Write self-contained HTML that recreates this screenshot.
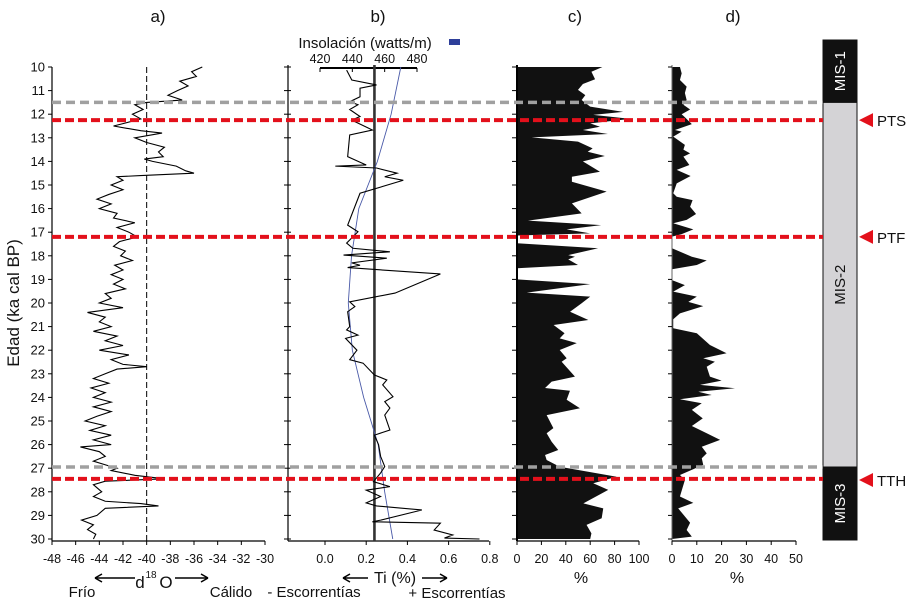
<!DOCTYPE html>
<html><head><meta charset="utf-8"><style>
html,body{margin:0;padding:0;background:#fff;}
svg{display:block;font-family:"Liberation Sans",sans-serif;}
</style></head><body>
<svg id="chart" width="915" height="602" viewBox="0 0 915 602" xmlns="http://www.w3.org/2000/svg">
<g id="content"></g>
</svg>
<script>
// ---- data ----
const yTicks=[10,11,12,13,14,15,16,17,18,19,20,21,22,23,24,25,26,27,28,29,30];
const d18oTicks=[-48,-46,-44,-42,-40,-38,-36,-34,-32,-30];
const tiTicks=[0.0,0.2,0.4,0.6,0.8];
const insolTicks=[420,440,460,480];
const pctTicksC=[0,20,40,60,80,100];
const pctTicksD=[0,10,20,30,40,50];
const d18oAge=[10.0,10.2,10.4,10.6,10.8,11.0,11.2,11.4,11.5,11.6,11.8,12.0,12.2,12.4,12.5,12.7,12.8,13.0,13.2,13.4,13.6,13.8,13.9,14.0,14.2,14.4,14.5,14.6,14.65,14.8,15.0,15.2,15.4,15.6,15.8,16.0,16.2,16.4,16.6,16.8,17.0,17.2,17.4,17.6,17.8,18.0,18.2,18.4,18.6,18.8,19.0,19.2,19.4,19.6,19.8,20.0,20.2,20.4,20.6,20.8,21.0,21.2,21.4,21.6,21.8,22.0,22.2,22.4,22.6,22.7,22.8,23.0,23.2,23.4,23.6,23.8,24.0,24.2,24.4,24.6,24.8,25.0,25.2,25.4,25.6,25.8,26.0,26.1,26.3,26.5,26.7,26.9,27.0,27.1,27.3,27.45,27.55,27.7,28.0,28.2,28.4,28.5,28.6,28.7,29.0,29.2,29.4,29.6,29.8,30.0];
const d18oVal=[-35.3,-36.2,-35.8,-37.2,-36.5,-37.4,-38.2,-37.0,-40.0,-41.0,-40.3,-41.2,-40.5,-42.0,-42.8,-40.5,-38.7,-41.0,-40.0,-38.5,-39.0,-38.6,-40.2,-39.5,-37.5,-36.7,-36.0,-40.5,-42.5,-42.0,-43.0,-42.0,-43.2,-44.2,-43.0,-44.0,-42.5,-42.8,-41.0,-42.5,-41.5,-40.8,-42.3,-42.8,-41.8,-42.2,-41.2,-42.7,-42.0,-43.0,-42.0,-42.8,-41.8,-43.5,-43.0,-44.0,-42.0,-45.0,-43.5,-44.0,-43.0,-44.5,-42.5,-43.5,-42.0,-44.0,-41.5,-43.0,-42.0,-40.0,-42.5,-43.5,-44.5,-43.2,-44.7,-43.5,-44.5,-43.0,-44.5,-43.0,-44.2,-45.2,-43.5,-44.8,-43.0,-44.5,-43.0,-45.6,-44.0,-43.5,-44.5,-43.2,-42.5,-43.0,-41.0,-38.5,-43.5,-44.5,-43.8,-44.5,-43.5,-40.5,-39.0,-43.5,-44.2,-45.5,-44.5,-45.0,-44.3,-44.5];
const tiAge=[10.13,10.55,10.76,10.9,11.26,11.47,11.6,11.8,12.1,12.25,12.67,12.88,13.8,14.15,14.2,14.28,14.5,14.65,14.8,15.35,16.7,16.98,17.46,17.68,17.83,17.97,18.1,18.3,18.4,18.5,18.77,19.58,19.95,20.15,20.37,21.0,21.14,21.36,21.5,22.0,22.4,22.55,23.05,23.26,23.47,23.97,24.18,24.45,24.75,25.38,25.6,26.0,26.5,26.93,27.2,27.57,27.78,27.93,28.2,28.47,28.6,28.77,29.2,29.27,29.33,29.62,29.83,29.96,30.0];
const tiVal=[0.105,0.13,0.25,0.17,0.17,0.12,0.16,0.12,0.17,0.13,0.23,0.12,0.11,0.20,0.05,0.25,0.35,0.29,0.38,0.17,0.11,0.16,0.105,0.135,0.315,0.09,0.30,0.13,0.17,0.11,0.56,0.34,0.12,0.145,0.11,0.12,0.105,0.16,0.10,0.155,0.12,0.185,0.24,0.30,0.28,0.33,0.29,0.315,0.29,0.315,0.24,0.26,0.27,0.29,0.27,0.235,0.315,0.20,0.27,0.20,0.25,0.47,0.27,0.23,0.56,0.53,0.62,0.58,0.75];
const tiMean=[0.24];
const insolAge=[10,12,14,16,18,20,22,24,26,28,30];
const insolVal=[470,464,455.5,444,439.5,437.5,440,447,456,460,465];
const cAge=[10.0,10.2,10.52,10.72,10.97,11.19,11.4,11.68,11.9,12.03,12.2,12.39,12.53,12.67,12.84,12.98,13.16,13.45,13.59,13.77,14.0,14.44,14.65,14.86,15.28,15.78,16.2,16.51,16.7,16.88,17.05,17.14,17.47,17.68,17.97,18.04,18.15,18.39,18.53,19.0,19.2,19.56,19.73,20.01,20.37,20.72,20.93,21.28,21.5,21.7,21.99,22.34,22.49,23.12,23.33,23.6,23.72,24.1,24.46,24.75,25.3,25.52,25.88,26.23,26.44,26.65,26.94,27.36,27.64,27.92,28.49,28.7,29.12,29.4,29.76,30.0];
const cVal=[70,61,64,54,50,56,53,60,87,62.5,93,60,68,54,74.5,12,50,62,58,72,54,68,45,45,73.5,45,53,9,69,40.7,60,0,0,66.5,42,47.5,42,50,0,0,60,8,60,53,43.5,58.5,30,39,35,49,35,40.7,36.6,47.5,28.4,23,43.4,40.7,51.6,24.3,29.8,24.3,28.4,33.8,23,24.3,35,81.7,62.5,74.8,54.4,70.7,69.4,57,61,60];
const dAge=[10.0,10.27,10.55,10.83,11.1,11.4,11.6,11.8,12.0,12.13,12.42,12.67,12.74,12.95,13.3,13.5,13.66,13.8,14.15,14.36,14.62,14.93,15.35,15.5,15.64,15.92,16.23,16.48,16.62,16.88,17.08,17.19,17.68,18.04,18.2,18.39,18.57,19.03,19.24,19.52,19.73,19.95,20.13,20.44,20.69,21.07,21.28,21.78,22.13,22.34,22.49,22.7,23.12,23.29,23.47,23.61,23.76,23.9,24.08,24.25,24.53,24.89,25.21,25.52,25.8,26.09,26.37,26.58,26.86,27.29,27.5,28.2,28.47,28.7,29.31,29.62,29.9,30.0];
const dVal=[3.2,3.9,3.2,5.9,5.2,5.9,4.6,7.3,3.9,5.2,8,1.2,3.9,0.5,5.2,4.6,7.3,4.6,7,1.9,7.5,1.9,0.5,1.9,8.3,7.3,9.7,5.9,0.5,8.6,3.9,0,0,8,14,10,0,0,5.2,0.5,10,6.6,12.6,3.2,0.5,0.5,10,15.3,22,12.6,17.3,14,15.3,20,11.3,25.4,10.6,16,3.2,12,8,12.4,8,14,19.4,12,14,12,12.6,3.2,5.2,3.2,8.6,2.5,7.3,5.9,8,0];
const misNames=["MIS-1","MIS-2","MIS-3"];
const misStart=[8.8,11.5,26.95];
const misEnd=[11.5,26.95,30.05];
const eventNames=["PTS","PTF","TTH"];
const eventAge=[12.25,17.2,27.5];
const redLineAge=[12.25,17.2,27.45];
const grayLineAge=[11.5,26.95];

// ---- scales ----
const Y=a=>67+(a-10)*23.6;
const XA=v=>52+(v+48)*(213/18);
const XT=v=>325+v*206;
const XI=v=>320+(v-420)*(97/60);
const XC=v=>517+v*1.22;
const XD=v=>672+v*2.48;
const NS="http://www.w3.org/2000/svg";
const root=document.getElementById('content');
function mk(tag,attrs,parent){const e=document.createElementNS(NS,tag);for(const k in attrs)e.setAttribute(k,attrs[k]);(parent||root).appendChild(e);return e;}
function txt(s,x,y,size,anchor,parent){const t=mk('text',{x:x,y:y,'font-size':size,'text-anchor':anchor||'middle',fill:'#111'},parent);t.textContent=s;return t;}

// titles
[["a)",158],["b)",378],["c)",575],["d)",733]].forEach(p=>{const t=txt(p[0],p[1],22,17);

});
const yt=txt("Edad (ka cal BP)",0,0,17);
yt.setAttribute('transform','translate(19,303) rotate(-90)');



// panel a
const gA=mk('g',{});


mk('line',{x1:52,y1:Y(10),x2:52,y2:541,stroke:'#000','stroke-width':1.2},gA);
mk('line',{x1:52,y1:541,x2:XA(-30),y2:541,stroke:'#000','stroke-width':1.2},gA);
yTicks.forEach(t=>{mk('line',{x1:48,y1:Y(t),x2:52,y2:Y(t),stroke:'#000'},gA);
const l=txt(String(t),45,Y(t)+4.5,13,'end',gA);

});
d18oTicks.forEach(t=>{mk('line',{x1:XA(t),y1:541,x2:XA(t),y2:545,stroke:'#000'},gA);
const l=txt(String(t),XA(t),563,12.5,'middle',gA);

});
mk('line',{x1:XA(-40),y1:Y(10),x2:XA(-40),y2:541,stroke:'#000','stroke-width':1,'stroke-dasharray':'6 3'},gA);
const pa=mk('polyline',{points:d18oAge.map((a,i)=>XA(d18oVal[i])+','+Y(a)).join(' '),fill:'none',stroke:'#000','stroke-width':1.1},gA);


txt("d",140,588,17,'middle',gA);txt("18",151,578,10,'middle',gA);txt("O",166,588,17,'middle',gA);
mk('line',{x1:95,y1:578,x2:135,y2:578,stroke:'#000','stroke-width':1.5},gA);
mk('path',{d:'M95,578 l7,-4 M95,578 l7,4',stroke:'#000','stroke-width':1.5,fill:'none'},gA);
mk('line',{x1:175,y1:578,x2:208,y2:578,stroke:'#000','stroke-width':1.5},gA);
mk('path',{d:'M208,578 l-7,-4 M208,578 l-7,4',stroke:'#000','stroke-width':1.5,fill:'none'},gA);
txt("Frío",82,597,15,'middle',gA);txt("Cálido",231,597,15,'middle',gA);

// panel b
const gB=mk('g',{});


mk('line',{x1:288,y1:Y(10)-2,x2:288,y2:541,stroke:'#000','stroke-width':1.2},gB);
mk('line',{x1:288,y1:541,x2:489,y2:541,stroke:'#000','stroke-width':1.2},gB);
yTicks.forEach(t=>{mk('line',{x1:284,y1:Y(t),x2:291,y2:Y(t),stroke:'#000'},gB);
mk('line',{x1:512,y1:Y(t),x2:517,y2:Y(t),stroke:'#000'},gB);});
tiTicks.forEach(t=>{mk('line',{x1:XT(t),y1:541,x2:XT(t),y2:545,stroke:'#000'},gB);
const l=txt(t.toFixed(1),XT(t),563,12.5,'middle',gB);

});
mk('line',{x1:XI(420),y1:68,x2:XI(480),y2:68,stroke:'#000','stroke-width':2},gB);
insolTicks.forEach(t=>{mk('line',{x1:XI(t),y1:68,x2:XI(t),y2:72,stroke:'#000'},gB);
const l=txt(String(t),XI(t),63,12.5,'middle',gB);

});
const it=txt("Insolación (watts/m)",365,48,15,'middle',gB);


const lg=mk('rect',{x:449,y:39,width:11,height:6,fill:'#2e3f9a'},gB);


const ml=mk('line',{x1:XT(tiMean[0]),y1:Y(10)-2,x2:XT(tiMean[0]),y2:541,stroke:'#333','stroke-width':2.6},gB);


const ins=mk('polyline',{points:insolAge.map((a,i)=>XI(insolVal[i])+','+Y(a)).join(' '),fill:'none',stroke:'#4a5aa8','stroke-width':0.9},gB);


const ti=mk('polyline',{points:tiAge.map((a,i)=>XT(tiVal[i])+','+Y(a)).join(' '),fill:'none',stroke:'#000','stroke-width':1.1},gB);


txt("Ti (%)",395,583,16,'middle',gB);
mk('path',{d:'M343,578 h25 M343,578 l7,-4 M343,578 l7,4',stroke:'#000','stroke-width':1.5,fill:'none'},gB);
mk('path',{d:'M422,578 h25 M447,578 l-7,-4 M447,578 l-7,4',stroke:'#000','stroke-width':1.5,fill:'none'},gB);
txt("- Escorrentías",314,597,15,'middle',gB);txt("+ Escorrentías",457,598,15,'middle',gB);

// panel c
const gC=mk('g',{});


const pc=mk('polygon',{points:[XC(0)+','+Y(cAge[0])].concat(cAge.map((a,i)=>XC(cVal[i])+','+Y(a))).concat([XC(0)+','+Y(cAge[cAge.length-1])]).join(' '),fill:'#111'},gC);


mk('line',{x1:517,y1:Y(10)-2,x2:517,y2:541,stroke:'#000','stroke-width':2},gC);
mk('line',{x1:517,y1:541,x2:XC(100),y2:541,stroke:'#000','stroke-width':1.2},gC);
pctTicksC.forEach(t=>{mk('line',{x1:XC(t),y1:541,x2:XC(t),y2:545,stroke:'#000'},gC);
const l=txt(String(t),XC(t),563,12.5,'middle',gC);

});
txt("%",581,583,16,'middle',gC);

// panel d
const gD=mk('g',{});


const pd=mk('polygon',{points:[XD(0)+','+Y(dAge[0])].concat(dAge.map((a,i)=>XD(dVal[i])+','+Y(a))).concat([XD(0)+','+Y(dAge[dAge.length-1])]).join(' '),fill:'#111'},gD);


mk('line',{x1:672,y1:Y(10)-2,x2:672,y2:541,stroke:'#666','stroke-width':1},gD);
mk('line',{x1:672,y1:541,x2:XD(50),y2:541,stroke:'#000','stroke-width':1.2},gD);
yTicks.forEach(t=>{mk('line',{x1:668,y1:Y(t),x2:672,y2:Y(t),stroke:'#000'},gD);});
pctTicksD.forEach(t=>{mk('line',{x1:XD(t),y1:541,x2:XD(t),y2:545,stroke:'#000'},gD);
const l=txt(String(t),XD(t),563,12.5,'middle',gD);

});
txt("%",737,583,16,'middle',gD);

// MIS column
const gM=mk('g',{});


misNames.forEach((n,i)=>{const y1=Math.max(40,Y(misStart[i])),y2=Math.min(540,Y(misEnd[i]));
const dark=i!==1;
const r=mk('rect',{x:823,y:y1,width:34,height:y2-y1,fill:dark?'#111':'#d4d3d6',stroke:'#111','stroke-width':1},gM);


const t=txt(n,0,0,15,'middle',gM);t.setAttribute('fill',dark?'#fff':'#111');
t.setAttribute('transform','translate(845,'+((y1+y2)/2)+') rotate(-90)');});

// dashed lines
grayLineAge.forEach(a=>{const l=mk('line',{x1:52,y1:Y(a),x2:823,y2:Y(a),stroke:'#a0a0a0','stroke-width':3.5,'stroke-dasharray':'9 5'});

});
redLineAge.forEach(a=>{const l=mk('line',{x1:52,y1:Y(a),x2:823,y2:Y(a),stroke:'#e3101b','stroke-width':4,'stroke-dasharray':'9 4'});

});

// events
eventNames.forEach((n,i)=>{const y=Y(eventAge[i]);
const tr=mk('polygon',{points:(859)+','+y+' 873,'+(y-7)+' 873,'+(y+7),fill:'#e3101b'});


txt(n,877,y+6,15,'start');});
</script>
</body></html>
